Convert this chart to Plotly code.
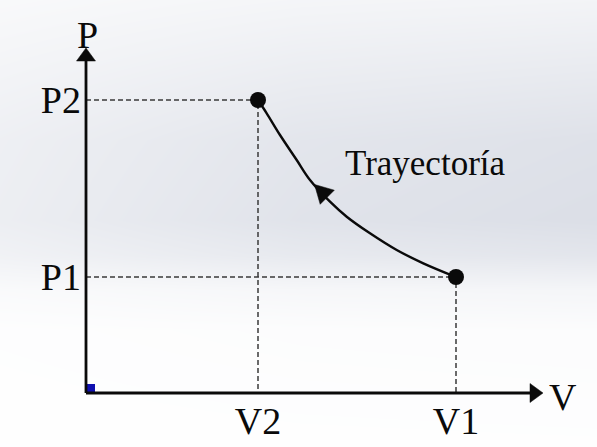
import math
import plotly.graph_objects as go

# --- states of the process (V, P) ---
V_TICKS = [17.2, 37.0]
V_LABELS = ["V2", "V1"]
P_TICKS = [11.6, 29.3]
P_LABELS = ["P1", "P2"]

STATE_V = [17.2, 37.0]   # state 2, state 1
STATE_P = [29.3, 11.6]

# --- path between the two states ---
CURVE_V = [17.2, 18.07, 19.4, 21.07, 22.4, 24.4, 26.07, 28.4, 31.07, 33.73, 37.0]
CURVE_P = [29.3, 27.97, 25.8, 23.3, 21.3, 19.13, 17.63, 15.97, 14.3, 12.97, 11.6]
ARROW_TIP = (22.85, 20.85)      # arrow head on the path, pointing back to state 2
ARROW_DIR = (-1.0, 1.0)

# --- view window and axis arrows ---
X_RANGE = [-8.6, 51.1]
Y_RANGE = [-5.4, 39.3]
V_AXIS_TIP = 45.7
P_AXIS_TIP = 34.5
HEAD_LEN = 1.3
HEAD_HALF = 0.95
CURVE_HEAD_LEN = 1.8
CURVE_HEAD_HALF = 1.0

FONT = "Liberation Serif, Times New Roman, serif"
INK = "#0a0a0a"

# --- background shading (top -> bottom, left -> right) ---
BG_ROWS_PX = [-20, 50, 140, 220, 255, 290, 330, 470]
BG_ROW_SHADE = [0.22, 0.45, 0.75, 0.82, 0.64, 0.24, 0.08, 0.02]
BG_COLS_PX = [-20, 300, 620]
BG_COL_SHADE = [0.5, 0.85, 1.0]

W, H = 597, 447
px_x = lambda p: X_RANGE[0] + p * (X_RANGE[1] - X_RANGE[0]) / W
px_y = lambda p: Y_RANGE[1] - p * (Y_RANGE[1] - Y_RANGE[0]) / H


def head(tip, direction, length, half):
    """Closed triangle outline for an arrow head ending at `tip`."""
    dx, dy = direction
    n = math.hypot(dx, dy)
    ux, uy = dx / n, dy / n
    bx, by = tip[0] - ux * length, tip[1] - uy * length
    px, py = -uy * half, ux * half
    return ([tip[0], bx + px, bx - px, tip[0]],
            [tip[1], by + py, by - py, tip[1]])


bg_x = [px_x(c) for c in BG_COLS_PX]
bg_y = [px_y(r) for r in BG_ROWS_PX][::-1]
bg_z = [[rs * cs for cs in BG_COL_SHADE] for rs in BG_ROW_SHADE][::-1]

fig = go.Figure()

fig.add_trace(go.Heatmap(
    x=bg_x, y=bg_y, z=bg_z, zmin=0, zmax=1, zsmooth="best",
    colorscale=[[0, "#ffffff"], [1, "#d3d7e1"]],
    showscale=False, hoverinfo="skip",
))

# dashed guide lines from each state to the axes
gx, gy = [], []
for v, p in zip(STATE_V, STATE_P):
    gx += [0, v, v, None]
    gy += [p, p, 0, None]
fig.add_trace(go.Scatter(
    x=gx, y=gy, mode="lines",
    line=dict(color="#3a3a3a", width=1.5, dash="5px,3px"),
    hoverinfo="skip",
))

# small origin marker
fig.add_trace(go.Scatter(
    x=[0.45], y=[0.45], mode="markers",
    marker=dict(symbol="square", size=9, color="#1010b0"),
    hoverinfo="skip",
))

# axes
fig.add_trace(go.Scatter(
    x=[0, V_AXIS_TIP - HEAD_LEN + 0.1, None, 0, 0],
    y=[0, 0, None, 0, P_AXIS_TIP - HEAD_LEN + 0.1],
    mode="lines", line=dict(color=INK, width=2.8), hoverinfo="skip",
))

# arrow heads (axes and path direction)
heads = [
    head((V_AXIS_TIP, 0), (1, 0), HEAD_LEN, HEAD_HALF),
    head((0, P_AXIS_TIP), (0, 1), HEAD_LEN, HEAD_HALF),
    head(ARROW_TIP, ARROW_DIR, CURVE_HEAD_LEN, CURVE_HEAD_HALF),
]
for hx, hy in heads:
    fig.add_trace(go.Scatter(
        x=hx, y=hy, mode="lines", fill="toself", fillcolor=INK,
        line=dict(color=INK, width=0.5), hoverinfo="skip",
    ))

# process path
fig.add_trace(go.Scatter(
    x=CURVE_V, y=CURVE_P, mode="lines",
    line=dict(color=INK, width=2.4, shape="spline"), hoverinfo="skip",
))
fig.add_trace(go.Scatter(
    x=STATE_V, y=STATE_P, mode="markers",
    marker=dict(symbol="circle", size=16, color=INK), hoverinfo="skip",
))

fig.add_annotation(x=47.7, y=-0.35, text="V", showarrow=False,
                   font=dict(family=FONT, size=38, color=INK))
fig.add_annotation(x=0.1, y=35.8, text="P", showarrow=False,
                   font=dict(family=FONT, size=38, color=INK))
fig.add_annotation(x=42.2, y=23.0, text="Trayectoría", showarrow=False,
                   xanchor="right", font=dict(family=FONT, size=35, color=INK))

fig.update_layout(
    width=W, height=H, autosize=False,
    margin=dict(l=0, r=0, t=0, b=0),
    paper_bgcolor="#ffffff", plot_bgcolor="#ffffff",
    showlegend=False,
    xaxis=dict(
        range=X_RANGE, anchor="free", position=(0 - Y_RANGE[0]) / (Y_RANGE[1] - Y_RANGE[0]),
        tickvals=V_TICKS, ticktext=V_LABELS, ticks="", ticklabelstandoff=2,
        showgrid=False, zeroline=False, showline=False,
        tickfont=dict(family=FONT, size=38, color=INK), fixedrange=True,
    ),
    yaxis=dict(
        range=Y_RANGE, anchor="free", position=(0 - X_RANGE[0]) / (X_RANGE[1] - X_RANGE[0]),
        tickvals=P_TICKS, ticktext=P_LABELS, ticks="", ticklabelstandoff=5,
        showgrid=False, zeroline=False, showline=False,
        tickfont=dict(family=FONT, size=38, color=INK), fixedrange=True,
    ),
)

fig.write_html("out.html")
